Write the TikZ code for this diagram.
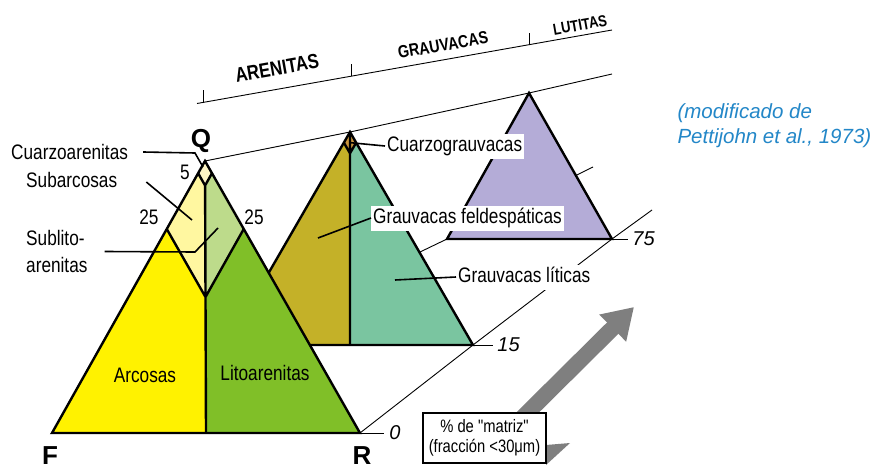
\documentclass[tikz,border=0pt]{standalone}
\usepackage{fontspec}
\setmainfont{Liberation Sans}
\newfontfamily\angosta{Liberation Sans}[FakeStretch=0.82]
\usepackage{xcolor}
\usepackage{tikz}
\usetikzlibrary{arrows.meta,calc}
\definecolor{arcosa}{HTML}{FFF200}
\definecolor{litoar}{HTML}{80BF28}
\definecolor{subarc}{HTML}{FFF7A0}
\definecolor{sublit}{HTML}{BDDB8B}
\definecolor{cuarzo}{HTML}{FEF5C4}
\definecolor{grauF}{HTML}{C4B128}
\definecolor{grauL}{HTML}{7AC5A0}
\definecolor{grauQ}{HTML}{C8943C}
\definecolor{lutita}{HTML}{B4ACD7}
\definecolor{cita}{HTML}{2387C8}
\definecolor{flecha}{HTML}{7F7F7F}

\begin{document}
\begin{tikzpicture}[x=1pt,y=-1pt,font=\angosta\fontsize{21}{25}\selectfont,
 tri/.style={line width=2.4pt,line join=miter},guide/.style={line width=0.9pt},leader/.style={line width=1.6pt},
 rotulo/.style={inner sep=1pt},caja/.style={fill=white,inner xsep=2pt,inner ysep=2.5pt,text height=15.5pt,text depth=4.5pt},
 grupo/.style={font=\angosta\fontsize{20.5}{21}\selectfont\bfseries,rotate=10},nivel/.style={font=\fontsize{20}{20}\selectfont\itshape,inner sep=1pt},
 vertice/.style={font=\fontsize{26}{26}\selectfont\bfseries,inner sep=0pt}]
 \useasboundingbox (0,0) rectangle (872,468); \fill[white] (0,0) rectangle (872,468);
 \coordinate (sA) at (197,103.5); \coordinate (sB) at (612,30);
 \draw[guide] (sA) -- (sB);
 \foreach \t in {0.0145,0.371,0.8}{\draw[guide] ($(sA)!\t!(sB)$) -- ++(0,-12);}
 \node[grupo] (gAren) at (277,68) {ARENITAS}; \node[grupo,font=\angosta\fontsize{17.5}{18}\selectfont\bfseries] (gGrau) at (443,45) {GRAUVACAS};
 \node[grupo,font=\angosta\fontsize{16}{16}\selectfont\bfseries] (gLuti) at (580,25) {LUTITAS};
 \coordinate (Q) at (205,161); \coordinate (F) at (52,433); \coordinate (R) at (360,433);
 \coordinate (Q2) at (350,132); \coordinate (F2) at (227,345); \coordinate (R2) at (473,345);
 \coordinate (Q3) at (529,93); \coordinate (F3) at (447,239); \coordinate (R3) at (612,239);
 \coordinate (Qend) at (612,74); \coordinate (Fend) at (593,167); \coordinate (Rend) at (652,210);
 \draw[guide] (Q) -- (Q2) -- (Q3) -- (Qend); \draw[guide] (F) -- (F2) -- (F3) -- (Fend); \draw[guide] (R) -- (R2) -- (R3) -- (Rend);
 \draw[guide] (R) -- ++(24,0) node[nivel,right=4pt] (n0) {0};
 \draw[guide] (R2) -- ++(20,0) node[nivel,right=3pt] (n15) {15};
 \draw[guide] (R3) -- ++(16,0) node[nivel,right=3pt] (n75) {75};
 \fill[lutita] (F3) -- (Q3) -- (R3) -- cycle; \draw[tri] (F3) -- (Q3) -- (R3) -- cycle;
 \coordinate (B2) at ($(F2)!0.5!(R2)$);
 \coordinate (m5l) at ($(Q2)!0.05!(F2)$); \coordinate (m5r) at ($(Q2)!0.05!(R2)$); \coordinate (m5c) at ($(m5l)+(m5r)-(Q2)$);
 \fill[grauF] (F2) -- (Q2) -- (B2) -- cycle; \fill[grauL] (B2) -- (Q2) -- (R2) -- cycle;
 \fill[grauQ] (Q2) -- (m5l) -- (m5c) -- (m5r) -- cycle;
 \draw[tri] (F2) -- (Q2) -- (R2) -- cycle; \draw[tri] (m5l) -- (m5c) -- (m5r) (Q2) -- (B2);
 \coordinate (B) at ($(F)!0.5!(R)$);
 \coordinate (l25) at ($(Q)!0.25!(F)$); \coordinate (r25) at ($(Q)!0.25!(R)$); \coordinate (c25) at ($(l25)+(r25)-(Q)$);
 \coordinate (l5) at ($(Q)!0.045!(F)$); \coordinate (r5) at ($(Q)!0.045!(R)$); \coordinate (c5) at ($(l5)+(r5)-(Q)$);
 \fill[arcosa] (F) -- (l25) -- (c25) -- (B) -- cycle; \fill[litoar] (B) -- (c25) -- (r25) -- (R) -- cycle;
 \fill[subarc] (l25) -- (l5) -- (c5) -- (c25) -- cycle; \fill[sublit] (c25) -- (c5) -- (r5) -- (r25) -- cycle;
 \fill[cuarzo] (Q) -- (l5) -- (c5) -- (r5) -- cycle;
 \draw[tri] (F) -- (Q) -- (R) -- cycle; \draw[tri] (l25) -- (c25) -- (r25) (l5) -- (c5) -- (r5) (c5) -- (B);
 \node[vertice,anchor=base] (vQ) at (201,147) {Q}; \node[vertice,anchor=base] (vF) at (50,464) {F}; \node[vertice,anchor=base] (vR) at (362,464) {R};
 \node[rotulo] (n5) at (185,172) {5}; \node[rotulo] (n25l) at (149,217) {25}; \node[rotulo] (n25r) at (254,217) {25};
 \node[rotulo] (lArcosa) at (145,375) {Arcosas}; \node[rotulo] (lLitoar) at (265,373) {Litoarenitas};
 \node[rotulo,anchor=west] (lCuarzoA) at (10,152) {Cuarzoarenitas};
 \node[rotulo,anchor=west] (lSubarc) at (25,180) {Subarcosas};
 \node[rotulo,anchor=west,align=left,font=\angosta\fontsize{21}{27}\selectfont] (lSublit) at (25,251.5) {Sublito-\\arenitas};
 \coordinate (kCuarzoA) at (195,153); \coordinate (pCuarzoA) at (203,167);
 \coordinate (pSubarc) at (192,220); \coordinate (kSublit) at (195,252); \coordinate (pSublit) at (218,228);
 \draw[leader] ([xshift=14pt]lCuarzoA.east) -- (kCuarzoA) -- (pCuarzoA);
 \draw[leader] ([xshift=28pt,yshift=-2pt]lSubarc.east) -- (pSubarc);
 \draw[leader] ([xshift=16pt]lSublit.east) -- (kSublit) -- (pSublit);
 \node[caja,anchor=west] (lCgrau) at (385,146) {Cuarzograuvacas};
 \node[caja,anchor=west] (lGfeld) at (371,218) {Grauvacas feldespáticas};
 \node[caja,anchor=west] (lGlit) at (456,277) {Grauvacas líticas};
 \coordinate (pCgrau) at ($(Q2)!0.5!(m5c)$); \coordinate (pGfeld) at (318,238); \coordinate (pGlit) at (395,280);
 \draw[leader] (pCgrau) -- (lCgrau.west); \draw[leader] (pGfeld) -- (lGfeld.west); \draw[leader] (pGlit) -- (lGlit.west);
 \coordinate (aS) at (515,425); \coordinate (aE) at (634,307);
 \draw[flecha,line width=16pt,-{Triangle[length=30pt,width=36pt]}] (aS) -- (aE);
 \fill[flecha] (546,445) -- (570,443) -- (546,465) -- cycle;
 \node[draw,line width=2pt,fill=white,minimum width=123pt,minimum height=50pt,align=center,font=\angosta\fontsize{18}{20}\selectfont] (matriz) at (484.5,438) {\% de "matriz"\\(fracción <30μm)};
 \node[cita,anchor=west,align=left,font=\fontsize{20.5}{25}\selectfont\itshape] (lCita) at (674,125.5) {(modificado de\\Pettijohn et al., 1973)};
\end{tikzpicture}
\end{document}
